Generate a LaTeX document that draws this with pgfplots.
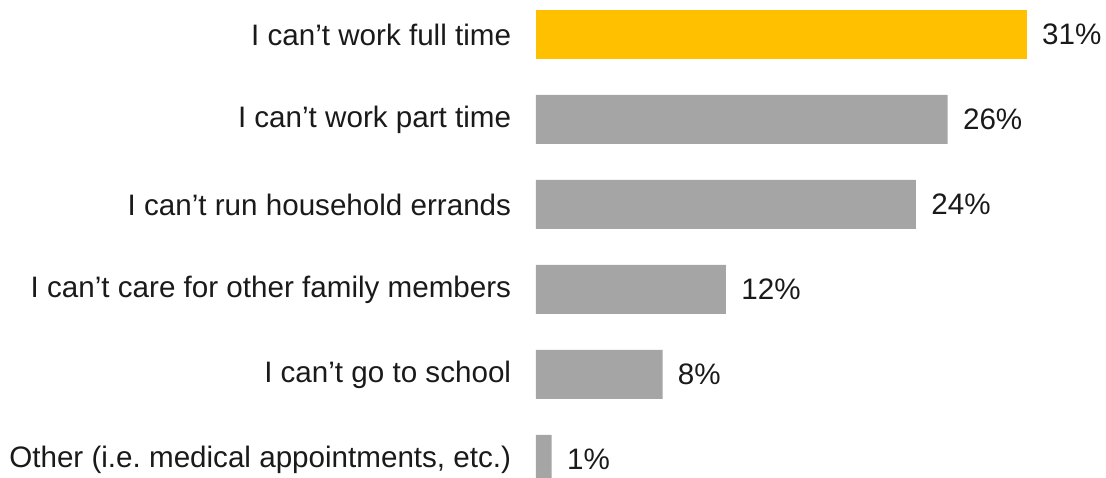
\documentclass[border=0pt]{standalone}
\usepackage{pgfplots}
\pgfplotsset{compat=1.18}
\usepackage{fontspec}
\setmainfont{Liberation Sans}
\frenchspacing
\definecolor{barY}{HTML}{FFC000}
\definecolor{barG}{HTML}{A5A5A5}
\definecolor{txt}{HTML}{1A1A1A}
\begin{document}
\begin{tikzpicture}
\begin{axis}[
  name=ax,
  scale only axis, width=553pt, height=239pt,
  xmin=-33.84, xmax=36.0,
  ymin=-0.406, ymax=5.218, y dir=reverse,
  axis line style={draw=none}, tick style={draw=none},
  xtick=\empty,
  /pgf/number format/assume math mode=true,
  xbar, bar width=24.5pt, bar shift=0pt,
  ytick={0,1,2,3,4,5},
  yticklabels={I can’t work full time, I can’t work part time, I can’t run household errands, I can’t care for other family members, I can’t go to school, Other (i.e. medical appointments{,} etc.)},
  yticklabel style={anchor=east, inner sep=0pt, xshift=260pt, font=\fontsize{14.8}{18}\selectfont, text=txt},
  nodes near coords={\pgfmathprintnumber{\pgfplotspointmeta}\%},
  nodes near coords style={anchor=west, inner sep=0pt, xshift=7.5pt, font=\fontsize{14.8}{18}\selectfont, text=txt},
]
\addplot[fill=barG, draw=none] coordinates {(26,1) (24,2) (12,3) (8,4) (1,5)};
\addplot[fill=barY, draw=none] coordinates {(31,0)};
\end{axis}
\pgfresetboundingbox
\path (ax.south west) rectangle (ax.north east);
\end{tikzpicture}
\end{document}
